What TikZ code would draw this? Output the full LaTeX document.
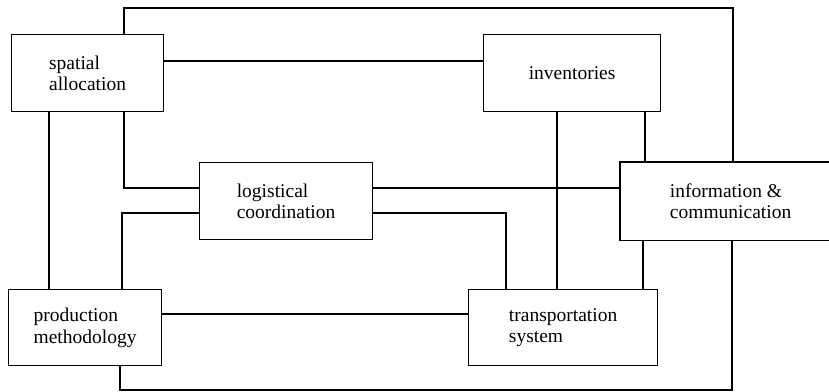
\documentclass[tikz,border=0pt]{standalone}
\usepackage{fontspec}
\setmainfont{Liberation Serif}
\begin{document}
\begin{tikzpicture}[x=1pt,y=-1pt,
  box/.style={draw, line width=1.2pt, inner sep=0pt, anchor=north west, align=left,
    font=\fontsize{19.5}{21.5}\selectfont},
  openbox/.style={box, draw=none},
  link/.style={line width=1.2pt}]
\useasboundingbox (0,0) rectangle (829,391);
\node[box, minimum width=152pt, minimum height=77pt] (sa) at (11,34) {spatial\\allocation};
\node[box, minimum width=177pt, minimum height=77pt] (inv) at (483,34) {inventories};
\node[box, minimum width=173pt, minimum height=77pt] (lc) at (199,162) {logistical\\coordination};
\node[openbox, minimum width=220pt, minimum height=77pt] (ic) at (620,162) {information \&\\communication};
\node[box, minimum width=153pt, minimum height=76pt] (pm) at (8,289) {production\\methodology};
\node[box, minimum width=189pt, minimum height=76pt] (ts) at (468,289) {transportation\\system};
\draw[link] (ic.north east) -- (ic.north west) -- (ic.south west) -- (ic.south east);
% corner coordinates
\coordinate (t1) at (124,8);
\coordinate (t2) at (733,8);
\coordinate (b1) at (732,390);
\coordinate (b2) at (120,390);
\coordinate (l1) at (124,188);
\coordinate (l2) at (122,213);
\coordinate (r2) at (506,213);
% connectors
\draw[link] (t1 |- sa.north) -- (t1) -- (t2) -- (t2 |- ic.north);
\draw[link] (sa.east |- 0,61) -- (inv.west |- 0,61);
\draw[link] (sa.south -| 49,0) -- (pm.north -| 49,0);
\draw[link] (sa.south -| l1) -- (l1) -- (lc.west |- l1);
\draw[link] (pm.north -| l2) -- (l2) -- (lc.west |- l2);
\draw[link] (lc.east |- l1) -- (ic.west |- l1);
\draw[link] (lc.east |- r2) -- (r2) -- (ts.north -| r2);
\draw[link] (inv.south -| 557,0) -- (ts.north -| 557,0);
\draw[link] (inv.south -| 645,0) -- (ic.north -| 645,0);
\draw[link] (ic.south -| 643,0) -- (ts.north -| 643,0);
\draw[link] (ic.south -| b1) -- (b1) -- (b2) -- (pm.south -| b2);
\draw[link] (pm.east |- 0,314) -- (ts.west |- 0,314);
\end{tikzpicture}
\end{document}
